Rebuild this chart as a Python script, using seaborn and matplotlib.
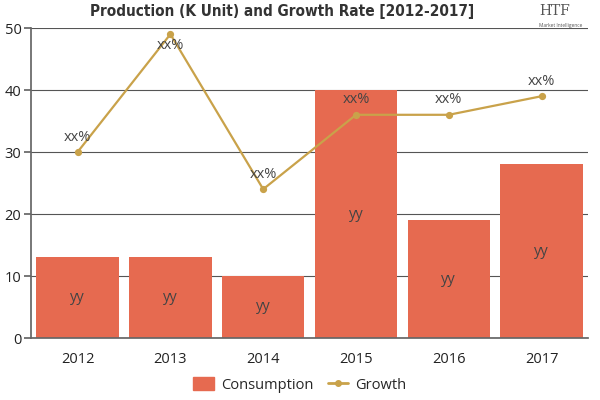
import matplotlib
matplotlib.use("Agg")
import matplotlib.pyplot as plt
import seaborn as sns
import pandas as pd
import numpy as np
from matplotlib.lines import Line2D
from matplotlib.patches import Patch

years = ["2012", "2013", "2014", "2015", "2016", "2017"]
consumption = [13, 13, 10, 40, 19, 28]
growth = [30, 49, 24, 36, 36, 39]
bar_labels = ["yy"] * 6
line_labels = ["xx%"] * 6

bar_color = "#E66A50"
line_color = "#C9A24A"

sns.set_theme(style="white")
plt.rcParams['font.family'] = ['Open Sans', 'DejaVu Sans']

fig = plt.figure(figsize=(6, 4), dpi=100)
ax = fig.add_axes([0.052, 0.155, 0.928, 0.775])

df = pd.DataFrame({"year": years, "consumption": consumption, "growth": growth})
sns.barplot(data=df, x="year", y="consumption", color=bar_color, width=0.89,
            saturation=1, ax=ax, linewidth=0, edgecolor=bar_color)
for p in ax.patches:
    p.set_zorder(2)
sns.pointplot(data=df, x="year", y="growth", color=line_color, ax=ax,
              markers="o", markersize=4, linewidth=1.6)
for ln in ax.lines:
    ln.set_zorder(4)

for i, (c, lab) in enumerate(zip(consumption, bar_labels)):
    ax.text(i, c / 2, lab, ha="center", va="center", fontsize=10.5, color="#444444", zorder=5)
for i, (g, lab) in enumerate(zip(growth, line_labels)):
    y = g + 2.4 if g + 2.4 < 48 else g - 1.8
    ax.text(i, y, lab, ha="center", va="center", fontsize=10.5, color="#444444", zorder=5)

ax.set_ylim(0, 50)
ax.set_xlim(-0.5, 5.5)
ax.set_yticks([0, 10, 20, 30, 40, 50])
ax.yaxis.grid(True, color="#555555", linewidth=0.8, zorder=1)
ax.set_axisbelow(True)
ax.set_xlabel("")
ax.set_ylabel("")
for s in ["top", "right"]:
    ax.spines[s].set_visible(False)
ax.spines["left"].set_color("#666666")
ax.spines["bottom"].set_color("#666666")
ax.tick_params(axis="y", left=True, length=5, color="#666666", labelsize=10.5, labelcolor="#222222", pad=2)
ax.tick_params(axis="x", bottom=False, labelsize=10.5, labelcolor="#222222", pad=4)

fig.text(0.47, 0.972, "Production (K Unit) and Growth Rate [2012-2017]", ha="center", va="center",
         fontsize=11, fontweight="heavy", color="#333333", family="DejaVu Sans", fontstretch="condensed")
fig.text(0.925, 0.972, "HTF", ha="center", va="center", fontsize=10, color="#555555", family="DejaVu Serif")
fig.text(0.935, 0.935, "Market Intelligence", ha="center", va="center", fontsize=3.5, color="#555555")

handles = [Patch(facecolor=bar_color, edgecolor=bar_color, label="Consumption"),
           Line2D([0], [0], color=line_color, marker="o", markersize=4, linewidth=2, label="Growth")]
fig.legend(handles=handles, loc="center", bbox_to_anchor=(0.5, 0.037), ncol=2, frameon=False,
           fontsize=10.5, handlelength=1.4, handleheight=1.0, columnspacing=1.0, handletextpad=0.5)

fig.savefig("out.png", dpi=100)
